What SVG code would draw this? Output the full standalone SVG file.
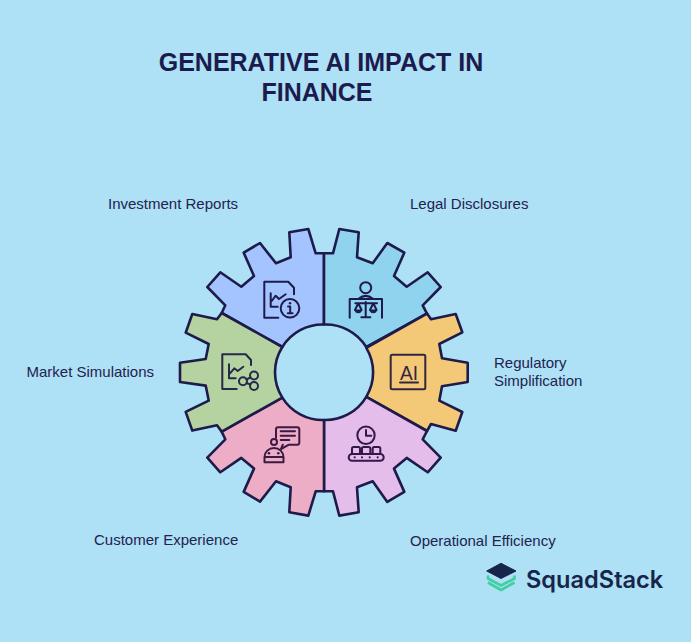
<svg xmlns="http://www.w3.org/2000/svg" width="691" height="642" viewBox="0 0 691 642">
<style>
text{font-family:"Liberation Sans",Arial,sans-serif}
.title{font-size:25px;font-weight:700;fill:#1c1b4d;text-anchor:middle}
.label{font-size:15px;fill:#23234f}
.seg{stroke:#1e1b4b;stroke-width:2.6;stroke-linejoin:round}
.ic{fill:none;stroke:currentColor;stroke-width:2;stroke-linecap:round;stroke-linejoin:round}
.dot{fill:currentColor;stroke:none}
</style>
<rect width="691" height="642" fill="#aee0f6"/>
<g id="title"><text class="title" x="321" y="71">GENERATIVE AI IMPACT IN</text><text class="title" x="317" y="101">FINANCE</text></g>
<g id="investment-reports" color="#1e1b4b">
<path class="seg" fill="#a3c4ff" d="M324,253.3H315.7L308.3,229L289.3,232.3L290.7,257.3L276,263.3L260,243L243.7,252.7L254,276L241.3,286.7L220.3,272.3L207.3,287L225.3,305.3L221.7,313L282.3,347A47.5,47.5 0 0 1 324,324.5Z"/>
<path class="ic" d="M278.3,317.7H264.3V281.7H288.3L294,287.7V294.3M270.7,293.3V306.7H277.7M271.7,301L275.7,295.7L279,299L285.7,294.3"/>
<circle class="ic" cx="290" cy="308.3" r="9.3"/><path class="ic" d="M288,306.5H290.2V313M287.8,313.2H292.6"/><circle class="dot" cx="290" cy="303.2" r="1.2"/>
<text class="label" x="108" y="209">Investment Reports</text></g>
<g id="legal-disclosures" color="#1e1b4b">
<path class="seg" fill="#8fd3ee" d="M324,253.3H333L339.3,229L358.7,232.3L357,257.3L372.7,263.3L387.3,243L404.3,252.7L394,276L406.7,286.7L427.7,272.3L440.7,287L422.7,305.3L427,313.7L366.3,347A47.5,47.5 0 0 0 324,324.5Z"/>
<circle class="ic" cx="365.7" cy="287.7" r="5.5"/>
<path class="ic" d="M349.7,317.7V299H382V317.7M358.5,298.8Q365.7,293 373,298.8M365.7,302V317.3M361.3,317.3H370.3M355.3,303.3H377M358.3,303.3L355,310M358.3,303.3L361.6,310M373.3,303.3L370,310M373.3,303.3L376.6,310"/>
<path class="dot" d="M354.6,309.5H362A3.7,3.7 0 0 1 354.6,309.5ZM369.6,309.5H377A3.7,3.7 0 0 1 369.6,309.5Z"/>
<text class="label" x="410" y="209">Legal Disclosures</text></g>
<g id="regulatory-simplification" color="#33263f">
<path class="seg" fill="#f3c977" d="M427,313.5L431,319.3L455.7,314L462.3,332.3L439.3,344L442,358.3L467.7,362.7V382L442,386.3L439.3,400.7L462.3,412L455.7,430.7L431,424L427,431L366.3,396.8A47.5,47.5 0 0 0 366.3,347.8Z"/>
<rect class="ic" x="390.7" y="354.7" width="34.6" height="34.6" rx="1.5"/>
<text x="400" y="380" font-size="20.5" fill="#33263f" textLength="18" lengthAdjust="spacingAndGlyphs">AI</text>
<path class="ic" d="M400,382.5H418"/>
<text class="label" x="494" y="368">Regulatory</text><text class="label" x="494" y="386">Simplification</text></g>
<g id="operational-efficiency" color="#33184a">
<path class="seg" fill="#e5bdea" d="M427,431L422.7,439.3L440.7,457.6L427.7,472.3L406.7,457.9L394,468.6L404.3,491.9L387.3,501.9L372.7,481.3L357,487.3L358.7,512.3L339.3,515.6L333,491.3H324V420A47.5,47.5 0 0 0 366.3,396.8Z"/>
<circle class="ic" cx="366" cy="435.3" r="8.7"/><path class="ic" d="M366,430V435.7H371.3"/>
<path class="ic" d="M352,454V448.5Q352,447 353.5,447H358.5Q360,447 360,448.5V454M362,454V448.5Q362,447 363.5,447H368.8Q370.3,447 370.3,448.5V454M372.7,454V448.5Q372.7,447 374.2,447H378.8Q380.3,447 380.3,448.5V454"/>
<rect class="ic" x="348.7" y="454" width="35" height="6.8" rx="3.4"/>
<circle class="dot" cx="354.7" cy="457.3" r="1.1"/><circle class="dot" cx="362" cy="457.3" r="1.1"/><circle class="dot" cx="369.7" cy="457.3" r="1.1"/><circle class="dot" cx="377.7" cy="457.3" r="1.1"/>
<text class="label" x="410" y="546">Operational Efficiency</text></g>
<g id="customer-experience" color="#3a1a44">
<path class="seg" fill="#eeadc6" d="M324,491.3H315.7L308.3,515.6L289.3,512.3L290.7,487.3L276,481.3L260,501.6L243.7,491.9L254,468.6L241.3,457.9L220.3,472.3L207.3,457.6L225.3,439.3L221.7,431.6L282.3,397.6A47.5,47.5 0 0 0 324,420Z"/>
<path class="ic" d="M276,438V429.3Q276,427.3 278,427.3H297.3Q299.3,427.3 299.3,429.3V442.7Q299.3,444.7 297.3,444.7H289L281,449L282.8,444.7M280.7,431.3H295M280.7,435.7H295M280.7,440H289.3"/>
<circle class="ic" cx="274" cy="442" r="3"/>
<path class="ic" d="M264.5,457A9.5,9 0 0 1 283.5,457V462.3H264.5ZM264.5,457H283.5"/>
<circle class="dot" cx="269" cy="453.3" r="1.3"/><circle class="dot" cx="278.3" cy="453.3" r="1.3"/>
<text class="label" x="94" y="545">Customer Experience</text></g>
<g id="market-simulations" color="#25294a">
<path class="seg" fill="#b5d3a1" d="M221.7,313L217,319.3L192.3,314L185.7,332.7L208.7,344L205.7,359L180,362.7V382L205.7,385.6L208.7,400.6L185.7,411.9L192.3,430.6L217,425.3L221.7,431.6L282.3,397.6A47.5,47.5 0 0 1 282.3,347Z"/>
<path class="ic" d="M236.7,389H222.3V354.3H245.7L251,360V365M229,364.3V378.3H235.7M230,373.3L234.3,368.3L237.7,371L243.3,366.7"/>
<circle class="ic" cx="254" cy="375.5" r="4"/><circle class="ic" cx="243" cy="381.3" r="4"/><circle class="ic" cx="254" cy="386" r="4"/>
<path class="ic" d="M246.5,379.5L250.5,377.3M246.6,383L250.5,384.6"/>
<text class="label" x="26.500" y="377">Market Simulations</text></g>
<g id="logo">
<path d="M486.7,571L501,563.3L516,571L501,578.5Z" fill="#15264a" stroke="#15264a" stroke-linejoin="round"/>
<path d="M488,575.500V578.500L501,585.500L514.500,578.500V575.500M488,582.500L501,590L514.500,582.500" fill="none" stroke="#3fcfa2" stroke-width="2.6" stroke-linejoin="round"/>
<text x="526" y="588" font-size="23.600" font-weight="600" fill="#15264a" style="font-family:Inter,'Liberation Sans',sans-serif">SquadStack</text></g>
</svg>
